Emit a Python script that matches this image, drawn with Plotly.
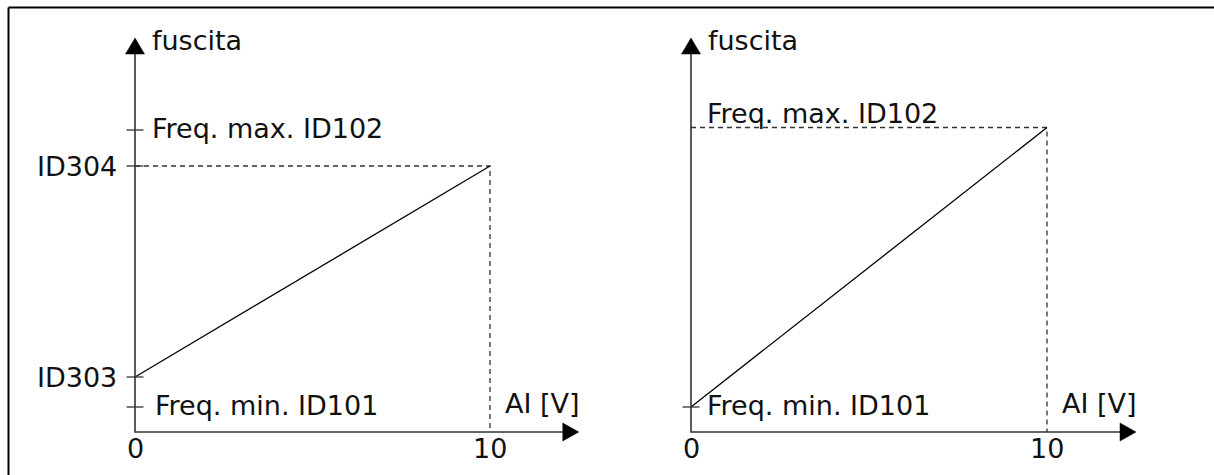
import plotly.graph_objects as go

# ---------------- data ----------------
VOLTS = [0, 10]                      # AI [V] range of the ramp
LEFT_OUT = [11.0, 53.2]              # left: ID303 at 0 V, ID304 at 10 V
RIGHT_OUT = [5.0, 60.9]              # right: Freq. min at 0 V, Freq. max at 10 V
LEFT_FMIN, LEFT_FMAX = 5.0, 60.4     # left panel reference levels
RIGHT_FMIN, RIGHT_FMAX = 5.0, 60.9   # right panel reference levels
X_AXIS_END = 12.5                    # where the x-axis arrow ends (V)
Y_AXIS_END = 78.8                    # where the y-axis arrow ends
X_TICK_LABELS = ["0", "10"]
Y_TITLE = "fuscita"
X_TITLE = "AI [V]"
LEFT_LEVEL_LABELS = ["ID303", "ID304"]
MAX_LABEL = "Freq. max. ID102"
MIN_LABEL = "Freq. min. ID101"

# ---------------- layout / scale parameters ----------------
W, H = 1214, 475
Y_PX = 5.0          # pixels per output unit
Y0_PX = 432         # pixel row of output = 0
PANELS = [dict(ax="x", origin=135, ppv=35.5), dict(ax="x2", origin=691, ppv=35.6)]
FONT = dict(family="DejaVu Sans, Verdana, sans-serif", size=27, color="#111")
AXIS_COLOR = "#333"
DASH_COLOR = "#333"

fig = go.Figure()

for i, p in enumerate(PANELS):
    ax = p["ax"]
    ppv = p["ppv"]
    xr = [-p["origin"] / ppv, (W - p["origin"]) / ppv]
    key = "xaxis" if ax == "x" else "xaxis2"
    fig.layout[key] = dict(range=xr, domain=[0, 1], visible=False, fixedrange=True,
                           **({} if ax == "x" else {"overlaying": "x"}))

    # axis lines with arrowheads
    ay_len = 16 / Y_PX
    ax_len = 16 / ppv
    fig.add_trace(go.Scatter(x=[0, 0, X_AXIS_END - ax_len], y=[Y_AXIS_END - ay_len, 0, 0],
                             mode="lines", line=dict(color=AXIS_COLOR, width=1.6),
                             xaxis=ax, yaxis="y", hoverinfo="skip"))
    hw = 9.5 / ppv
    fig.add_trace(go.Scatter(x=[-hw, 0, hw, -hw],
                             y=[Y_AXIS_END - ay_len, Y_AXIS_END, Y_AXIS_END - ay_len, Y_AXIS_END - ay_len],
                             mode="lines", fill="toself", fillcolor="black",
                             line=dict(color="black", width=0.5), xaxis=ax, yaxis="y", hoverinfo="skip"))
    hh = 9 / Y_PX
    fig.add_trace(go.Scatter(x=[X_AXIS_END - ax_len, X_AXIS_END, X_AXIS_END - ax_len, X_AXIS_END - ax_len],
                             y=[-hh, 0, hh, -hh],
                             mode="lines", fill="toself", fillcolor="black",
                             line=dict(color="black", width=0.5), xaxis=ax, yaxis="y", hoverinfo="skip"))

    out = LEFT_OUT if i == 0 else RIGHT_OUT
    # dashed guide lines
    fig.add_trace(go.Scatter(x=[VOLTS[0], VOLTS[1], VOLTS[1]], y=[out[1], out[1], 0],
                             mode="lines", line=dict(color=DASH_COLOR, width=1.3, dash="5px,4px"),
                             xaxis=ax, yaxis="y", hoverinfo="skip"))
    # ramp
    fig.add_trace(go.Scatter(x=VOLTS, y=out, mode="lines",
                             line=dict(color="black", width=1.3),
                             xaxis=ax, yaxis="y", hoverinfo="skip"))
    # small ticks on the y axis
    th = 8.5 / ppv
    levels = [LEFT_FMIN, LEFT_OUT[0], LEFT_OUT[1], LEFT_FMAX] if i == 0 else [RIGHT_FMIN]
    tx, ty = [], []
    for lv in levels:
        tx += [-th, th, None]
        ty += [lv, lv, None]
    fig.add_trace(go.Scatter(x=tx, y=ty, mode="lines", line=dict(color=AXIS_COLOR, width=1.3),
                             xaxis=ax, yaxis="y", hoverinfo="skip"))

    # texts
    ann = []
    ann.append(dict(x=0, y=Y_AXIS_END, text=Y_TITLE, xanchor="left", yanchor="middle",
                    xshift=15, yshift=-2))
    for v, lab in zip(VOLTS, X_TICK_LABELS):
        ann.append(dict(x=v, y=0, text=lab, xanchor="center", yanchor="top", yshift=1))
    ann.append(dict(x=VOLTS[1], y=0, text=X_TITLE, xanchor="left", yanchor="bottom",
                    xshift=13, yshift=11))
    if i == 0:
        ann.append(dict(x=0, y=LEFT_FMAX, text=MAX_LABEL, xanchor="left", yanchor="middle",
                        xshift=15, yshift=2))
        ann.append(dict(x=0, y=LEFT_FMIN, text=MIN_LABEL, xanchor="left", yanchor="middle",
                        xshift=18, yshift=2))
        for v, lab in zip(LEFT_OUT, LEFT_LEVEL_LABELS):
            ann.append(dict(x=0, y=v, text=lab, xanchor="right", yanchor="middle",
                            xshift=-16, yshift=0))
    else:
        ann.append(dict(x=0, y=RIGHT_FMAX, text=MAX_LABEL, xanchor="left", yanchor="bottom",
                        xshift=14, yshift=-3))
        ann.append(dict(x=0, y=RIGHT_FMIN, text=MIN_LABEL, xanchor="left", yanchor="middle",
                        xshift=14, yshift=2))
    for a in ann:
        a.update(xref=ax, yref="y", showarrow=False, font=FONT)
        fig.add_annotation(**a)

# frame (top and left edges)
fx = 8.5 / W
fy = 1 - 7.5 / H
fig.add_shape(type="line", xref="paper", yref="paper", x0=fx, y0=fy, x1=1, y1=fy,
              line=dict(color="black", width=2))
fig.add_shape(type="line", xref="paper", yref="paper", x0=fx, y0=fy, x1=fx, y1=0,
              line=dict(color="black", width=2))

fig.update_layout(
    width=W, height=H, autosize=False,
    margin=dict(l=0, r=0, t=0, b=0, pad=0),
    paper_bgcolor="white", plot_bgcolor="white",
    showlegend=False, hovermode=False,
    yaxis=dict(range=[-(H - Y0_PX) / Y_PX, Y0_PX / Y_PX], domain=[0, 1],
               visible=False, fixedrange=True),
)

fig.write_html("out.html", config={"displayModeBar": False},
               post_script="document.body.style.margin='0';document.body.style.padding='0';"
                           "document.body.style.overflow='hidden';")
